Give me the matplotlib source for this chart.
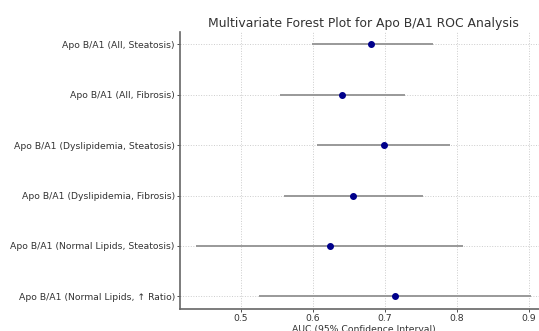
import numpy as np
import matplotlib.pyplot as plt

# AUC estimates with 95% CI, top to bottom
labels = [
    'Apo B/A1 (All, Steatosis)',
    'Apo B/A1 (All, Fibrosis)',
    'Apo B/A1 (Dyslipidemia, Steatosis)',
    'Apo B/A1 (Dyslipidemia, Fibrosis)',
    'Apo B/A1 (Normal Lipids, Steatosis)',
    'Apo B/A1 (Normal Lipids, \u2191 Ratio)',
]
auc = [0.681, 0.640, 0.698, 0.656, 0.623, 0.714]
ci_low = [0.598, 0.554, 0.605, 0.559, 0.438, 0.525]
ci_high = [0.766, 0.728, 0.791, 0.753, 0.808, 0.903]

auc = np.array(auc)
err = np.array([auc - np.array(ci_low), np.array(ci_high) - auc])
ypos = np.arange(len(labels))

fig = plt.figure(figsize=(5.39, 3.31), dpi=100)
# the reference is cropped on the right, so the axes run past the figure edge
ax = fig.add_axes([0.3334, 0.0665, 0.683, 0.838])

ax.errorbar(auc, ypos, xerr=err, fmt='o', color='darkblue', ecolor='#999999',
            elinewidth=1.4, capsize=0, markersize=4, zorder=3)

ax.set_yticks(ypos)
ax.set_yticklabels(labels)
ax.invert_yaxis()
ax.set_xticks([0.5, 0.6, 0.7, 0.8, 0.9])

ax.grid(True, linestyle=':', linewidth=0.7, color='#cccccc')
ax.set_axisbelow(True)
for side in ['top', 'right']:
    ax.spines[side].set_visible(False)
for side in ['left', 'bottom']:
    ax.spines[side].set_color('#666666')
    ax.spines[side].set_linewidth(1.2)

ax.tick_params(axis='both', labelsize=6.7, colors='#333333', length=2, width=0.6, pad=1.5)
ax.set_title('Multivariate Forest Plot for Apo B/A1 ROC Analysis', fontsize=8.9,
             color='#333333', pad=3)
ax.set_xlabel('AUC (95% Confidence Interval)', fontsize=6.7, color='#333333', labelpad=1.5)

fig.savefig('out.png', dpi=100)
